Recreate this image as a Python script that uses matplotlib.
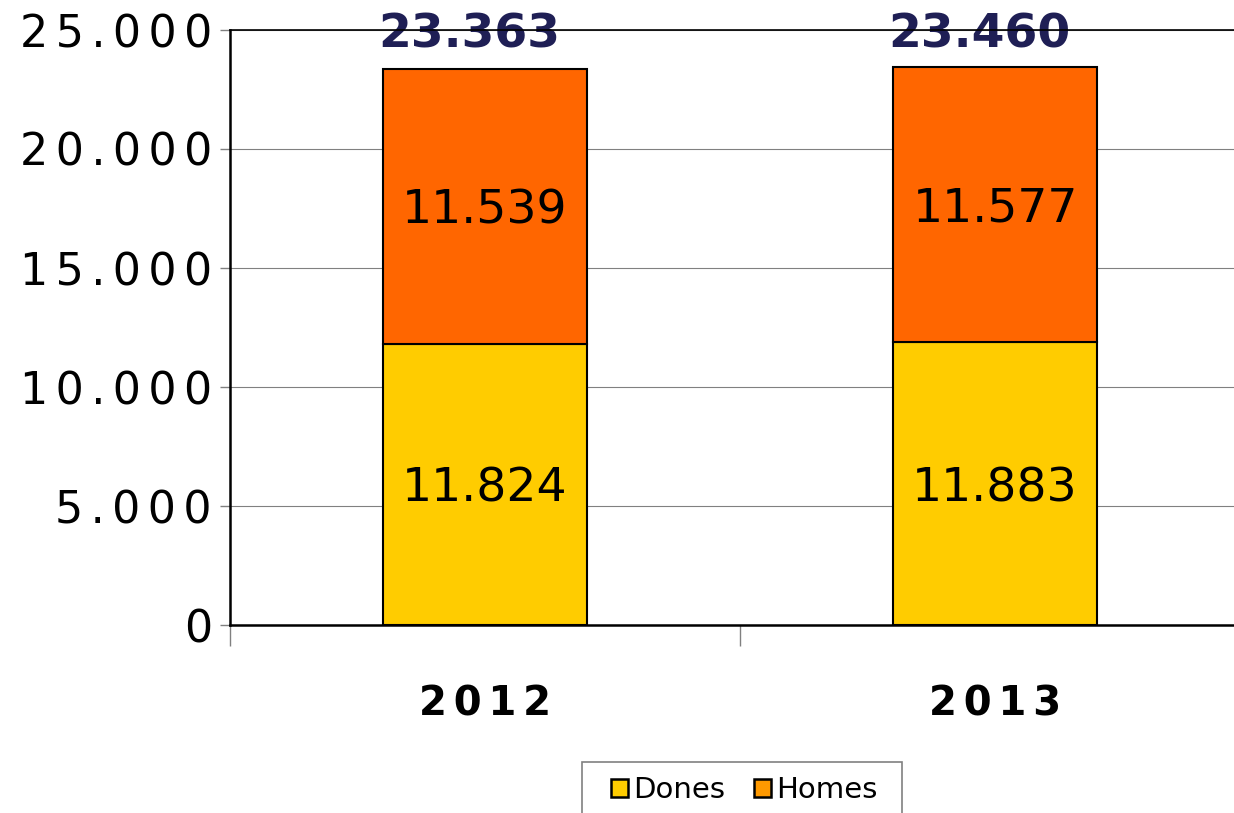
import matplotlib
matplotlib.use("Agg")
import matplotlib.pyplot as plt
from matplotlib.patches import Patch, Rectangle
from matplotlib.ticker import FuncFormatter

years = ["2012", "2013"]
dones = [11824, 11883]
homes = [11539, 11577]
totals = [d + h for d, h in zip(dones, homes)]


def fmt(v):
    return f"{int(v):,}".replace(",", ".")


def spaced(s):
    # reference font is set with loose letter spacing
    return "\u2006".join(s)


W, H = 1234, 813
fig = plt.figure(figsize=(W / 100, H / 100), dpi=100)
# axes span 230..1250 px horizontally (right edge falls off the canvas), 30..625 vertically
ax = fig.add_axes([230 / W, 1 - 625 / H, 1020 / W, 595 / H])

x = list(range(len(years)))
ax.bar(x, dones, width=0.4, color="#FFCC00", edgecolor="black", linewidth=1.5, zorder=3)
ax.bar(x, homes, width=0.4, bottom=dones, color="#FF6600", edgecolor="black", linewidth=1.5, zorder=3)

for i in x:
    ax.text(i, dones[i] / 2, fmt(dones[i]), ha="center", va="center_baseline", fontsize=34, zorder=4)
    ax.text(i, dones[i] + homes[i] / 2, fmt(homes[i]), ha="center", va="center_baseline",
            fontsize=34, zorder=4)
    ax.text(i - 0.03, 25000, fmt(totals[i]), ha="center", va="center_baseline", fontsize=34,
            weight="bold", color="#1F1F55", zorder=2, clip_on=False)

ax.set_xlim(-0.5, 1.5)
ax.set_ylim(0, 25000)
ax.set_yticks(range(0, 25001, 5000))
ax.yaxis.set_major_formatter(FuncFormatter(lambda v, p: spaced(fmt(v))))
ax.tick_params(axis="y", labelsize=32, length=7, width=1, color="#808080", pad=6)
ax.grid(axis="y", color="#808080", linewidth=0.8, zorder=0)

ax.set_xticks([-0.5, 0.5, 1.5])
ax.set_xticklabels([])
ax.set_xticks(x, minor=True)
ax.set_xticklabels([spaced(y) for y in years], minor=True, fontsize=29, weight="bold")
ax.tick_params(axis="x", which="major", length=15, width=1, color="#808080", direction="out")
ax.tick_params(axis="x", which="minor", length=0, pad=43)

for s in ["left", "bottom", "top"]:
    ax.spines[s].set_linewidth(1.8)
    ax.spines[s].set_color("black")
    ax.spines[s].set_zorder(6)
ax.spines["top"].set_linewidth(1.2)
ax.spines["right"].set_visible(False)

# legend box (runs off the bottom edge like the reference)
fig.patches.append(Rectangle((582 / W, 1 - 830 / H), 320 / W, 68 / H, transform=fig.transFigure,
                             facecolor="white", edgecolor="#808080", linewidth=1.2))
handles = [Patch(facecolor="#FFCC00", edgecolor="black", linewidth=1.8, label="Dones"),
           Patch(facecolor="#FF9900", edgecolor="black", linewidth=1.8, label="Homes")]
fig.legend(handles=handles, loc="center left", bbox_to_anchor=(611 / W, 1 - 790 / H),
           ncol=2, fontsize=21, frameon=False,
           handlelength=0.58, handleheight=0.58, handletextpad=0.17, columnspacing=1.0,
           borderpad=0, borderaxespad=0)

fig.savefig("out.png", dpi=100)
